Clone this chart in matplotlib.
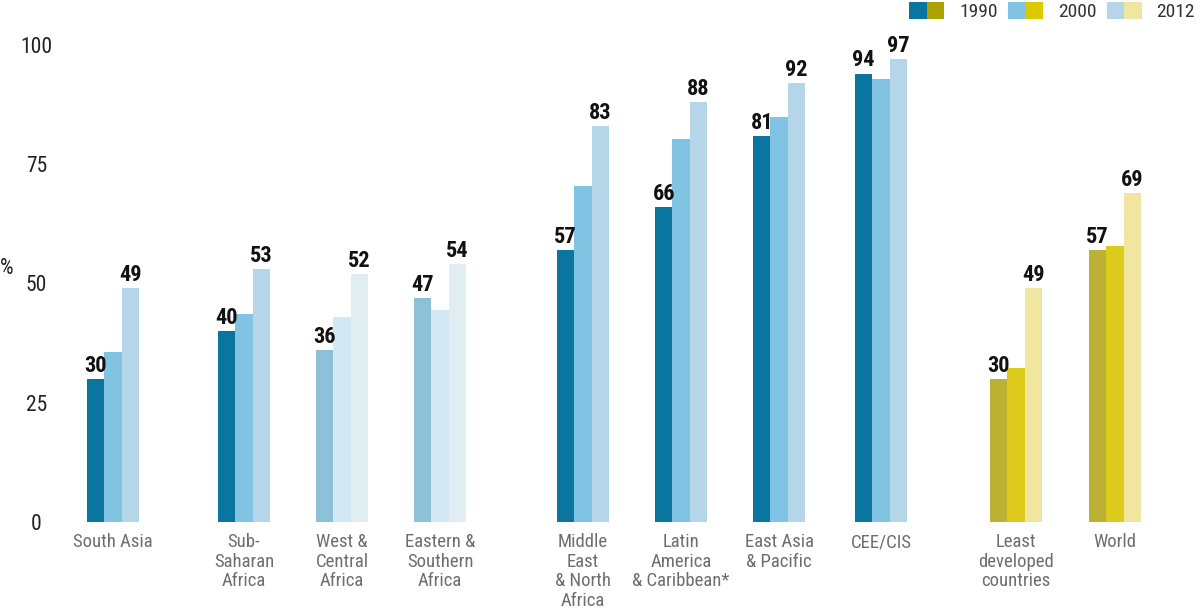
import numpy as np
import matplotlib
matplotlib.use("Agg")
import matplotlib.pyplot as plt
from matplotlib.patches import Patch
from matplotlib.legend_handler import HandlerTuple
from matplotlib import font_manager

# ------------------------------------------------------------
#  data
# ------------------------------------------------------------
categories = ["South Asia", "Sub-\nSaharan\nAfrica", "West &\nCentral\nAfrica",
              "Eastern &\nSouthern\nAfrica", "Middle\nEast\n& North\nAfrica",
              "Latin\nAmerica\n& Caribbean*", "East Asia\n& Pacific", "CEE/CIS",
              "Least\ndeveloped\ncountries", "World"]
years = ["1990", "2000", "2012"]
v1990 = [30, 40, 36, 47, 57, 66, 81, 94, 30, 57]
v2000 = [35.6, 43.6, 43, 44.4, 70.5, 80.3, 84.8, 92.8, 32.3, 57.9]
v2012 = [49, 53, 52, 54, 83, 88, 92, 97, 49, 69]
yticks = [0, 25, 50, 75, 100]

# ------------------------------------------------------------
#  layout / style
# ------------------------------------------------------------
xpos = np.array([0, 1.337, 2.337, 3.337, 4.796, 5.796, 6.796, 7.837, 9.214, 10.224])
bw = 0.177

blue = ["#0a76a0", "#80c3e2", "#b5d6e8"]
faded = ["#8cc1d8", "#d2e8f4", "#e0eef1"]
olive = ["#bdb134", "#ddca1a", "#f0e6a0"]
legend_olive = ["#aba200", "#dcc900", "#f0e6a0"]
palette = [blue, blue, faded, faded, blue, blue, blue, blue, olive, olive]

# narrow family if one is around
names = {f.name for f in font_manager.fontManager.ttflist}
FONT = [n for n in ["Roboto Condensed", "Liberation Sans Narrow", "Roboto"] if n in names]
FONT.append("DejaVu Sans")
plt.rcParams["font.family"] = FONT

fig = plt.figure(figsize=(12, 6.1), dpi=100)
ax = fig.add_axes([0.05, 0.1443, 0.9417, 0.7820])

series = [v1990, v2000, v2012]
for k, vals in enumerate(series):
    for i, v in enumerate(vals):
        ax.bar(xpos[i] + (k - 1) * bw, v, width=bw, color=palette[i][k],
               linewidth=0)
        if k != 1:
            ax.annotate(f"{v:g}", (xpos[i] + (k - 1) * bw, v),
                        xytext=(0, 1.5), textcoords="offset points",
                        ha="center", va="bottom", fontsize=16,
                        fontweight="bold", color="#111111")

ax.set_xlim(-0.541, 10.99)
ax.set_ylim(0, 100)
for s in ax.spines.values():
    s.set_visible(False)

ax.set_yticks(yticks)
ax.set_yticklabels([str(t) for t in yticks])
ax.tick_params(axis="y", length=0, pad=17, labelsize=15.5, labelcolor="#222222")
for lbl in ax.get_yticklabels():
    lbl.set_horizontalalignment("center")

ax.set_xticks(xpos)
ax.set_xticklabels(categories, linespacing=1.12)
ax.tick_params(axis="x", length=0, pad=8, labelsize=13.5, labelcolor="#6e6e6e")

fig.text(0.0, 0.56, "%", fontsize=15.5, color="#222222", ha="left", va="center")

# legend: paired blue / olive swatches
handles = []
for k in range(3):
    handles.append((Patch(color=blue[k], linewidth=0),
                    Patch(color=legend_olive[k], linewidth=0)))
fig.legend(handles, years, handler_map={tuple: HandlerTuple(ndivide=None, pad=0)},
           ncol=3, loc="upper right", bbox_to_anchor=(1.004, 1.012), frameon=False,
           fontsize=14, handlelength=1.8, handleheight=0.9, handletextpad=0.75,
           columnspacing=0.55, labelcolor="#333333", borderaxespad=0.1)

fig.savefig("out.png", dpi=100)
